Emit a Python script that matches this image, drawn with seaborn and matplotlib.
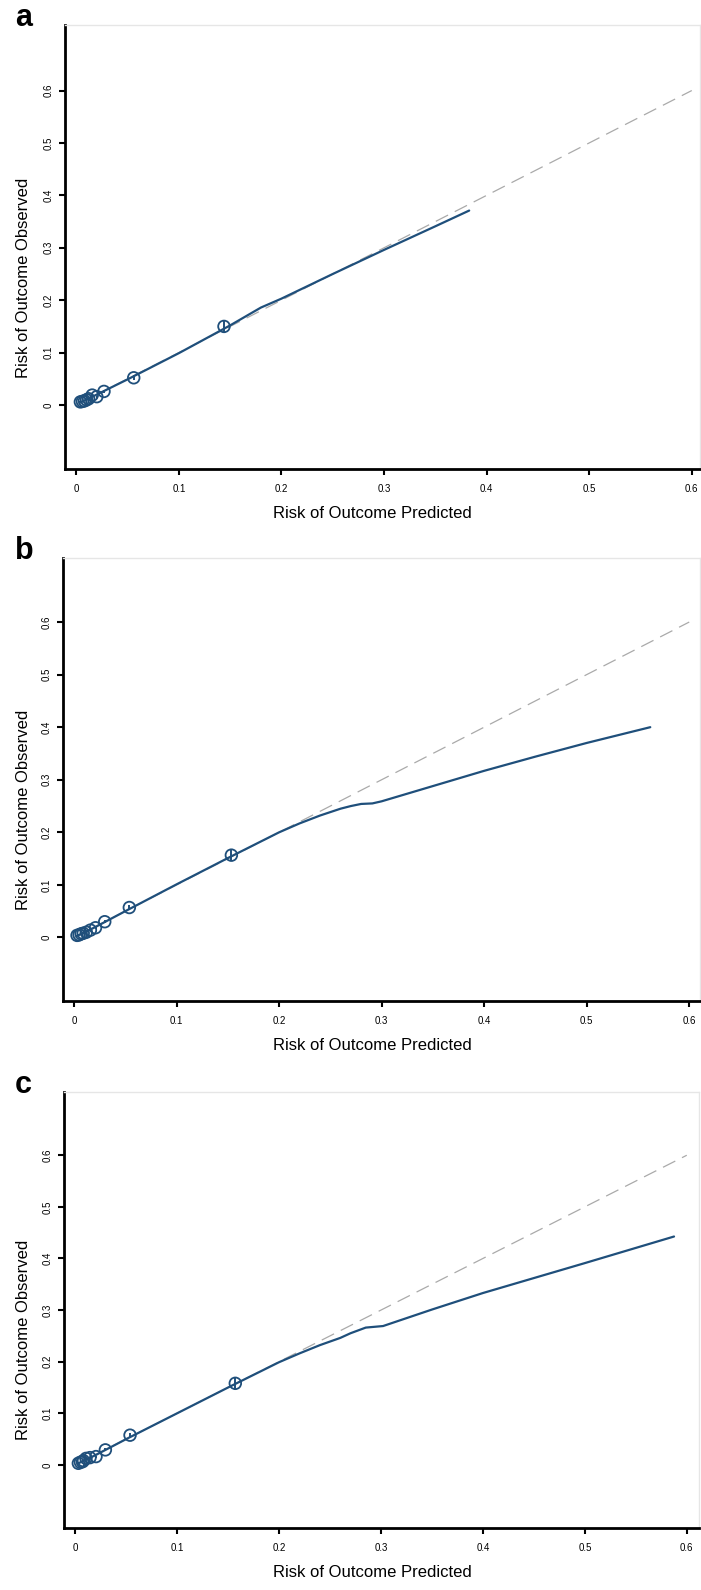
import matplotlib
matplotlib.use("Agg")
import matplotlib.pyplot as plt
import seaborn as sns
import numpy as np
import pandas as pd

# ---------------- data ----------------
panel_labels = ["a", "b", "c"]

# binned observed vs predicted (points)
a_pred = [0.004, 0.006, 0.008, 0.010, 0.012, 0.0155, 0.020, 0.027, 0.056, 0.144]
a_obs = [0.006, 0.007, 0.008, 0.010, 0.012, 0.019, 0.016, 0.026, 0.052, 0.150]
a_err = [0.001, 0.001, 0.001, 0.001, 0.002, 0.002, 0.002, 0.003, 0.005, 0.010]

b_pred = [0.003, 0.005, 0.007, 0.009, 0.012, 0.016, 0.021, 0.030, 0.054, 0.1535]
b_obs = [0.004, 0.005, 0.007, 0.008, 0.010, 0.014, 0.0185, 0.030, 0.057, 0.1566]
b_err = [0.001, 0.001, 0.001, 0.001, 0.002, 0.002, 0.002, 0.003, 0.005, 0.012]

c_pred = [0.003, 0.005, 0.007, 0.008, 0.0105, 0.0144, 0.0203, 0.0295, 0.0537, 0.157]
c_obs = [0.003, 0.005, 0.006, 0.008, 0.0125, 0.014, 0.016, 0.029, 0.0575, 0.158]
c_err = [0.001, 0.001, 0.001, 0.001, 0.002, 0.002, 0.002, 0.003, 0.005, 0.0125]

# smoothed calibration curves
a_curve_x = [0.004, 0.02, 0.05, 0.10, 0.15, 0.18, 0.20, 0.25, 0.30, 0.35, 0.383]
a_curve_y = [0.005, 0.020, 0.049, 0.099, 0.152, 0.186, 0.203, 0.250, 0.296, 0.341, 0.371]

b_curve_x = [0.003, 0.02, 0.05, 0.10, 0.15, 0.20, 0.22, 0.24, 0.26, 0.27, 0.28, 0.291,
             0.30, 0.35, 0.40, 0.45, 0.50, 0.562]
b_curve_y = [0.003, 0.019, 0.050, 0.101, 0.151, 0.200, 0.217, 0.232, 0.245, 0.250, 0.254, 0.255,
             0.259, 0.288, 0.317, 0.344, 0.370, 0.400]

c_curve_x = [0.003, 0.02, 0.05, 0.10, 0.15, 0.20, 0.22, 0.24, 0.26, 0.27, 0.285, 0.302,
             0.35, 0.40, 0.45, 0.50, 0.5875]
c_curve_y = [0.003, 0.019, 0.050, 0.100, 0.150, 0.199, 0.216, 0.232, 0.246, 0.255, 0.266, 0.269,
             0.301, 0.333, 0.362, 0.391, 0.4425]

ref_x = [0.0, 0.6]
ref_y = [0.0, 0.6]

tick_vals = [0, 0.1, 0.2, 0.3, 0.4, 0.5, 0.6]
tick_labels = ["0", "0.1", "0.2", "0.3", "0.4", "0.5", "0.6"]

x_label = "Risk of Outcome Predicted"
y_label = "Risk of Outcome Observed"

# ---------------- style ----------------
sns.set_style("white")
plt.rcParams["font.family"] = ["Liberation Sans", "DejaVu Sans"]
for k in ["text.color", "axes.labelcolor", "xtick.color", "ytick.color"]:
    plt.rcParams[k] = "black"

W, H = 701, 1590
fig = plt.figure(figsize=(W / 100, H / 100), dpi=100)

line_col = "#1f4f7b"

# axes rectangles in pixels: left, top, right, bottom
rects = [(65, 25, 700, 469), (63, 558, 700, 1001), (64, 1092.3, 699, 1528)]
xlims = [(-0.011, 0.608), (-0.0107, 0.6105), (-0.0111, 0.612)]
ylims = [(-0.122, 0.725), (-0.1208, 0.7218), (-0.1224, 0.722)]

panels = [
    (a_pred, a_obs, a_err, a_curve_x, a_curve_y),
    (b_pred, b_obs, b_err, b_curve_x, b_curve_y),
    (c_pred, c_obs, c_err, c_curve_x, c_curve_y),
]

for i, (px, py, pe, cx, cy) in enumerate(panels):
    l, t, r, b = rects[i]
    ax = fig.add_axes([l / W, 1 - b / H, (r - l) / W, (b - t) / H])

    ref_df = pd.DataFrame({"x": ref_x, "y": ref_y})
    sns.lineplot(data=ref_df, x="x", y="y", ax=ax, color="#aaaaaa", lw=0.9,
                 linestyle=(0, (11, 6)), zorder=1)

    cur_df = pd.DataFrame({"x": cx, "y": cy})
    sns.lineplot(data=cur_df, x="x", y="y", ax=ax, color=line_col, lw=1.6,
                 sort=False, zorder=3)

    ax.errorbar(px, py, yerr=pe, fmt="none", ecolor=line_col, elinewidth=1.4, zorder=4)
    pt_df = pd.DataFrame({"x": px, "y": py})
    sns.scatterplot(data=pt_df, x="x", y="y", ax=ax, s=70, marker="o",
                    facecolors="none", edgecolor=line_col, linewidth=1.3, zorder=5)

    ax.set_xlim(*xlims[i])
    ax.set_ylim(*ylims[i])
    ax.set_xticks(tick_vals)
    ax.set_xticklabels(tick_labels, fontsize=7)
    ax.set_yticks(tick_vals)
    ax.set_yticklabels(tick_labels, fontsize=7, rotation=90, va="center")
    ax.tick_params(axis="both", direction="out", length=4, width=1.5, color="black",
                   left=True, bottom=True)
    ax.tick_params(axis="x", pad=7)
    ax.tick_params(axis="y", pad=4.5)

    for s in ["left", "bottom"]:
        ax.spines[s].set_color("black")
        ax.spines[s].set_linewidth(2)
    for s in ["top", "right"]:
        ax.spines[s].set_color("#e6e6e6")
        ax.spines[s].set_linewidth(1)

    ax.set_xlabel(x_label, fontsize=12)
    ax.set_ylabel(y_label, fontsize=12)
    ax.xaxis.set_label_coords((372 - l) / (r - l), -(37) / (b - t))
    ax.yaxis.set_label_coords(-(l - 31) / (r - l), 1 - 0.569)

    fig.text(15 / W, 1 - (t + 1) / H, panel_labels[i], fontsize=22, fontweight="bold",
             color="black", ha="left", va="baseline")

fig.savefig("out.png", dpi=100)
